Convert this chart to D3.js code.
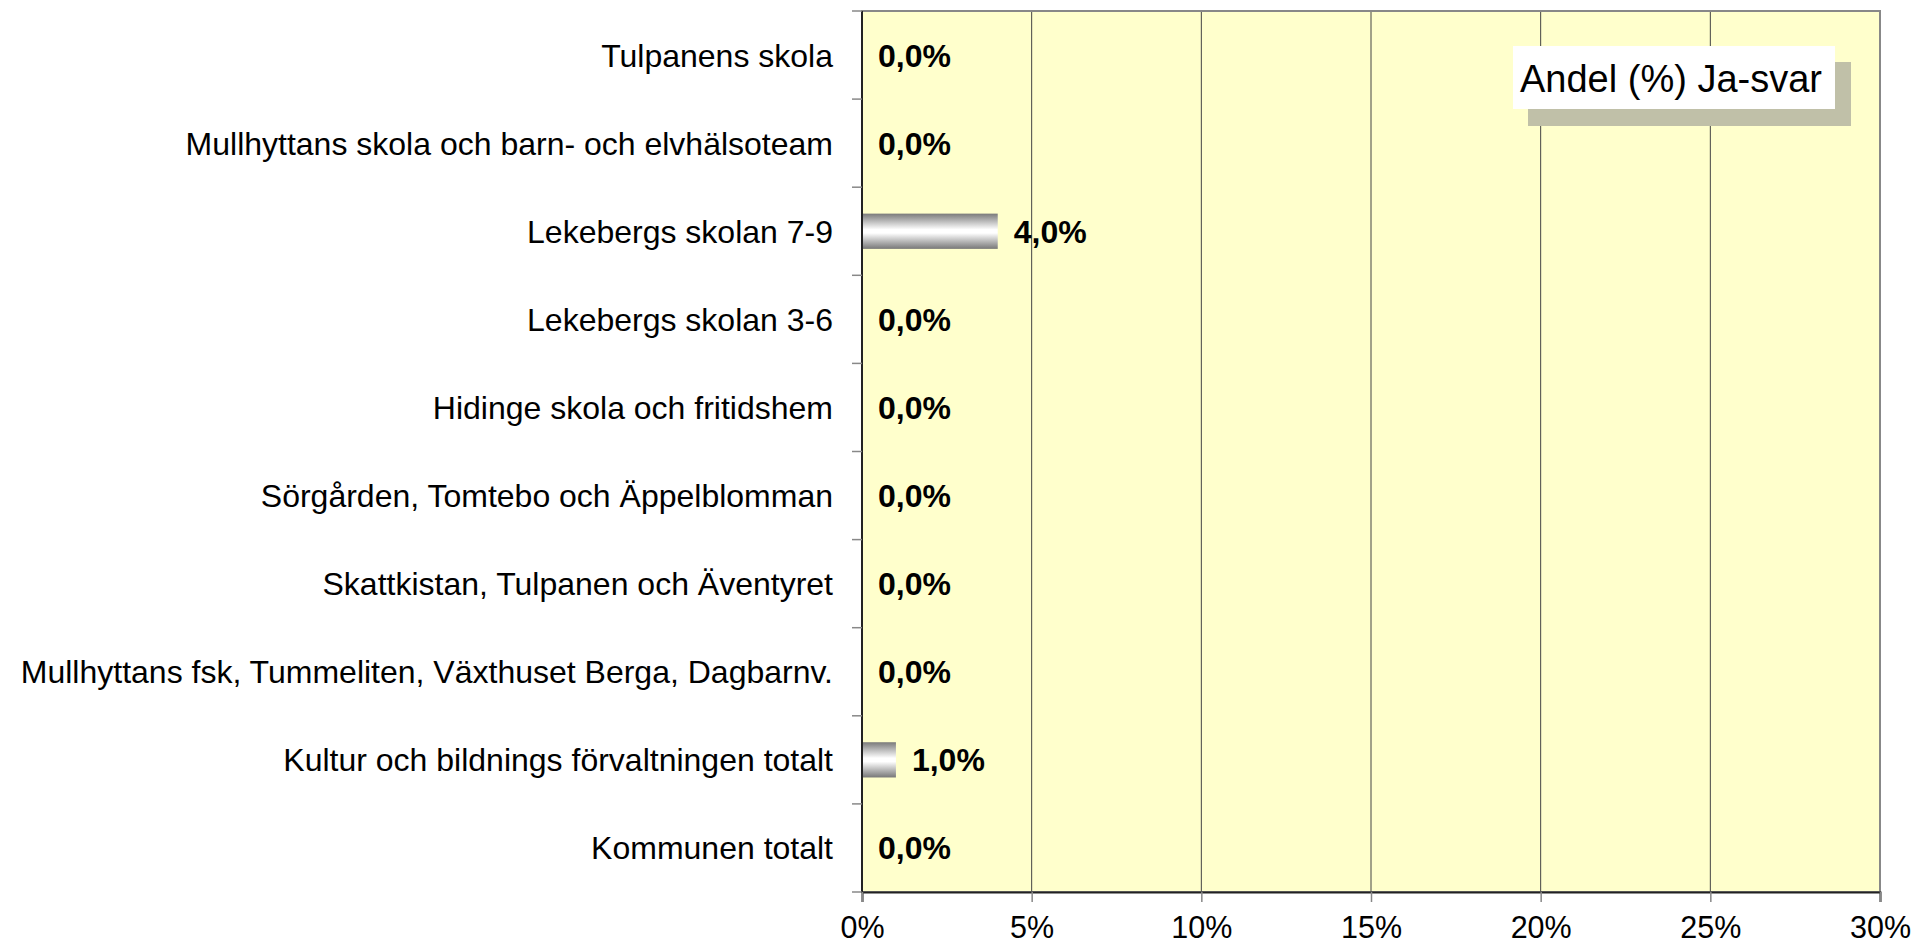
<!DOCTYPE html>
<html><head><meta charset="utf-8">
<script src="https://cdn.jsdelivr.net/npm/d3@7"></script>
<style>
html,body{margin:0;padding:0;background:#fff;}
svg{display:block;font-family:"Liberation Sans",Arial,sans-serif;}
</style></head>
<body>
<svg id="chart" width="1930" height="945"></svg>
<script>
const categories = [
  "Tulpanens skola",
  "Mullhyttans skola och barn- och elvhälsoteam",
  "Lekebergs skolan 7-9",
  "Lekebergs skolan 3-6",
  "Hidinge skola och fritidshem",
  "Sörgården, Tomtebo och Äppelblomman",
  "Skattkistan, Tulpanen och Äventyret",
  "Mullhyttans fsk, Tummeliten, Växthuset Berga, Dagbarnv.",
  "Kultur och bildnings förvaltningen totalt",
  "Kommunen totalt"
];
const values = [0, 0, 4.0, 0, 0, 0, 0, 0, 1.0, 0];
const xTicks = [0, 5, 10, 15, 20, 25, 30];
const legendLabel = "Andel (%) Ja-svar";

const svg = d3.select("#chart");
const L = 862, R = 1880, T = 11, B = 892;

const x = d3.scaleLinear().domain([0, 30]).range([L, R]);
const y = d3.scaleBand().domain(categories).range([T, B]).paddingInner(0.6).paddingOuter(0.3);
const yStep = d3.scaleBand().domain(categories).range([T, B]);

const defs = svg.append("defs");
const grad = defs.append("linearGradient").attr("id", "barGrad").attr("x1", 0).attr("y1", 0).attr("x2", 0).attr("y2", 1);
grad.append("stop").attr("offset", "0%").attr("stop-color", "#7a7a7a");
grad.append("stop").attr("offset", "45%").attr("stop-color", "#ffffff");
grad.append("stop").attr("offset", "55%").attr("stop-color", "#ffffff");
grad.append("stop").attr("offset", "100%").attr("stop-color", "#777777");

// plot background
svg.append("rect").attr("x", L).attr("y", T).attr("width", R - L).attr("height", B - T)
  .attr("fill", "#FFFFCC");

// gridlines
svg.append("g").selectAll("line").data(xTicks.slice(1, -1)).join("line")
  .attr("x1", d => x(d)).attr("x2", d => x(d)).attr("y1", T).attr("y2", B)
  .attr("stroke", "#444").attr("stroke-width", 1);

// border
svg.append("rect").attr("x", L).attr("y", T).attr("width", R - L).attr("height", B - T)
  .attr("fill", "none").attr("stroke", "#888").attr("stroke-width", 2);

// bars
svg.append("g").selectAll("rect").data(categories).join("rect")
  .attr("x", x(0))
  .attr("y", d => y(d))
  .attr("width", (d, i) => x(values[i]) - x(0))
  .attr("height", y.bandwidth())
  .attr("fill", "url(#barGrad)");

// value labels
svg.append("g").selectAll("text").data(categories).join("text")
  .attr("x", (d, i) => x(values[i]) + 16)
  .attr("y", d => y(d) + y.bandwidth() / 2)
  .attr("dy", "0.36em")
  .attr("font-size", 32).attr("font-weight", "bold").attr("fill", "#000")
  .text((d, i) => values[i].toFixed(1).replace(".", ",") + "%");

// y axis
const yAxis = svg.append("g");
yAxis.append("line").attr("x1", L).attr("x2", L).attr("y1", T).attr("y2", B)
  .attr("stroke", "#222").attr("stroke-width", 2);
const bounds = categories.map(c => yStep(c)).concat([B]);
yAxis.selectAll("line.tk").data(bounds).join("line").attr("class", "tk")
  .attr("x1", L - 10).attr("x2", L).attr("y1", d => d).attr("y2", d => d)
  .attr("stroke", "#888").attr("stroke-width", 1.5);
yAxis.selectAll("text").data(categories).join("text")
  .attr("x", L - 29)
  .attr("y", d => yStep(d) + yStep.bandwidth() / 2)
  .attr("dy", "0.36em")
  .attr("text-anchor", "end")
  .attr("font-size", 32).attr("fill", "#000")
  .text(d => d);

// x axis
const xAxis = svg.append("g").attr("transform", `translate(0,${B})`)
  .call(d3.axisBottom(x).tickValues(xTicks).tickFormat(d => d + "%").tickSize(10).tickPadding(14.5));
xAxis.select(".domain").attr("stroke", "#222").attr("stroke-width", 2);
xAxis.selectAll(".tick line").attr("stroke", "#888").attr("stroke-width", 1.5);
xAxis.selectAll(".tick text").attr("font-size", 30.5).attr("fill", "#000")
  .attr("font-family", "Liberation Sans, Arial, sans-serif");

// legend
const lg = svg.append("g");
lg.append("rect").attr("x", 1528).attr("y", 62).attr("width", 323).attr("height", 64).attr("fill", "#C0C0A8");
lg.append("rect").attr("x", 1513).attr("y", 46).attr("width", 322).attr("height", 63).attr("fill", "#fff");
lg.append("text").attr("x", 1520).attr("y", 78).attr("dy", "0.36em")
  .attr("font-size", 38).attr("fill", "#000").text(legendLabel);
</script>
</body></html>
